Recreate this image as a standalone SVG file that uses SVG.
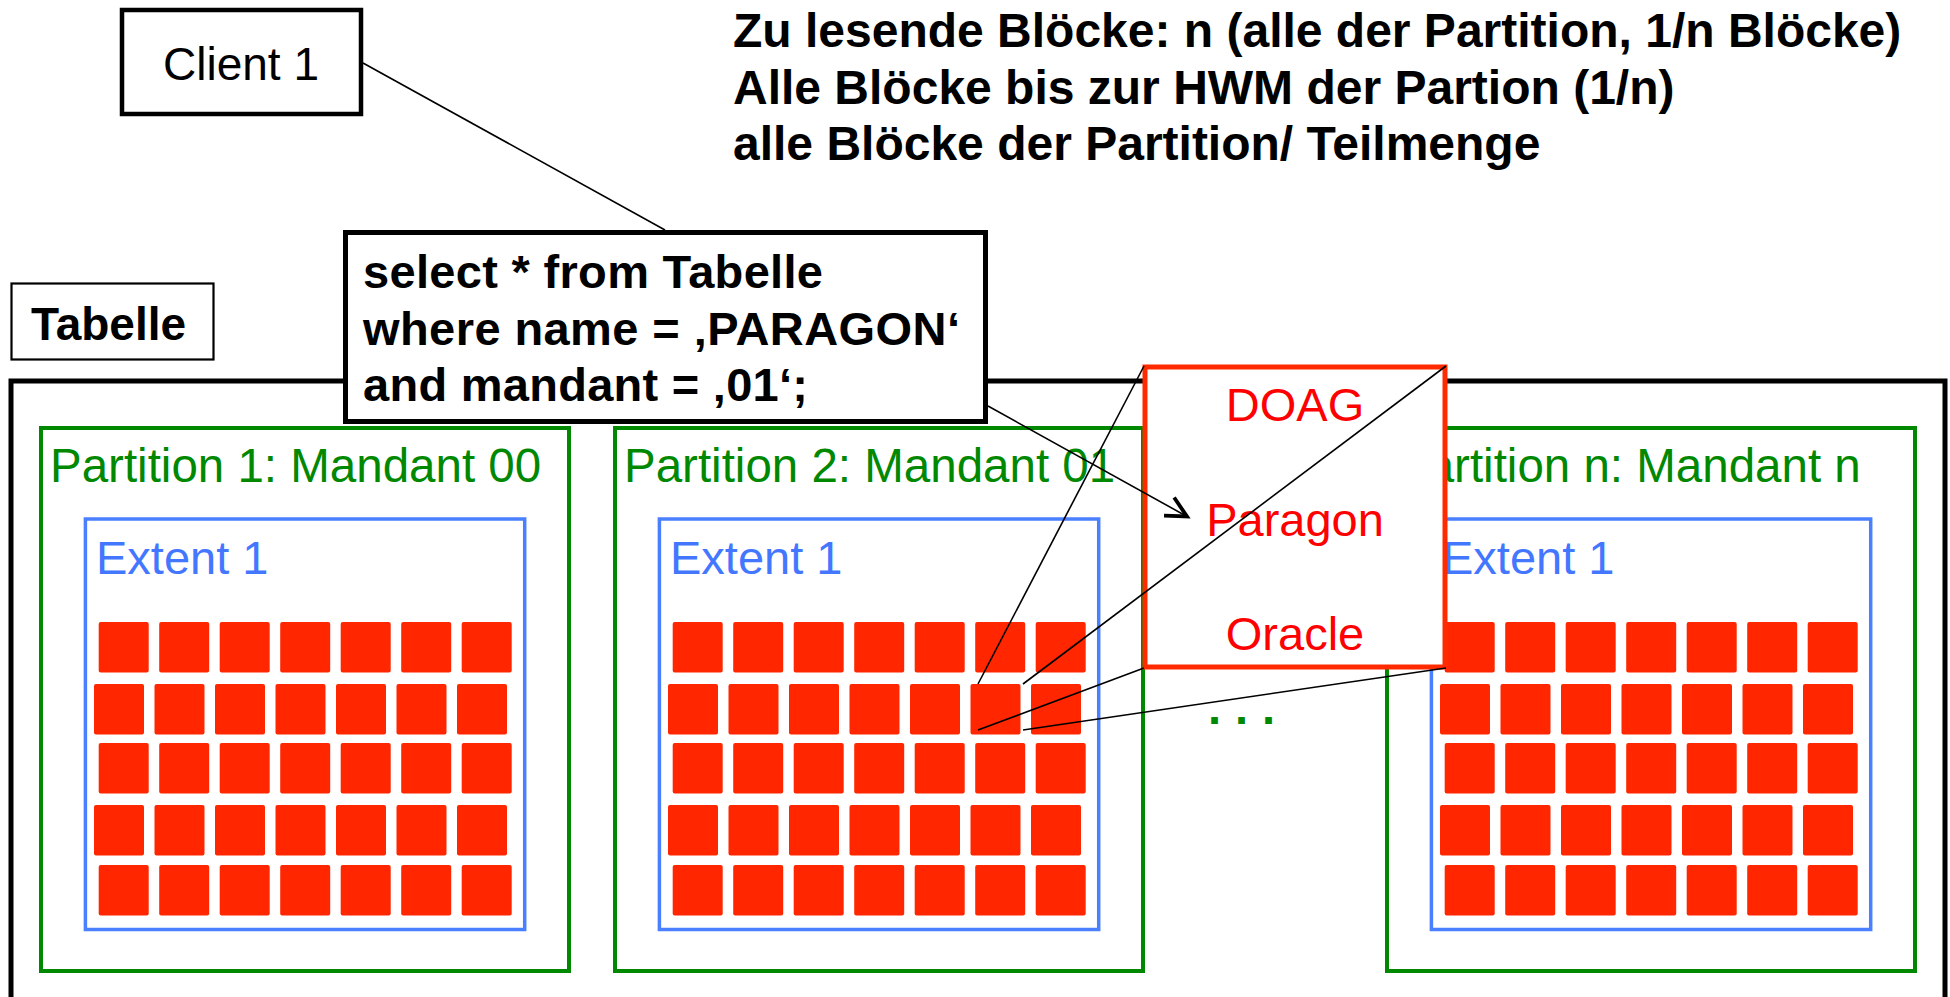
<svg xmlns="http://www.w3.org/2000/svg" xmlns:xlink="http://www.w3.org/1999/xlink" width="1950" height="997" viewBox="0 0 1950 997">
<style>
text{font-family:"Liberation Sans",Arial,sans-serif;}
.b{font-weight:bold;fill:#000;}
.part{fill:none;stroke:#008800;stroke-width:4;}
.ext{fill:none;stroke:#4a80ff;stroke-width:3.5;}
.ptext{font-size:47.5px;fill:#008800;}
.etext{font-size:47px;fill:#4477ff;}
.blk{fill:#ff2600;}
.conn{fill:none;stroke:#000;stroke-width:1.6;}
.red{font-size:47px;fill:#ff0000;text-anchor:middle;}
</style>
<defs>
<rect id="b" class="blk" width="50" height="50.5" rx="2"/>
<g id="grid">
<use href="#b" x="57.7" y="194"/><use href="#b" x="118.2" y="194"/><use href="#b" x="178.7" y="194"/><use href="#b" x="239.2" y="194"/><use href="#b" x="299.7" y="194"/><use href="#b" x="360.2" y="194"/><use href="#b" x="420.7" y="194"/>
<use href="#b" x="53" y="256"/><use href="#b" x="113.5" y="256"/><use href="#b" x="174" y="256"/><use href="#b" x="234.5" y="256"/><use href="#b" x="295" y="256"/><use href="#b" x="355.5" y="256"/><use href="#b" x="416" y="256"/>
<use href="#b" x="57.7" y="315"/><use href="#b" x="118.2" y="315"/><use href="#b" x="178.7" y="315"/><use href="#b" x="239.2" y="315"/><use href="#b" x="299.7" y="315"/><use href="#b" x="360.2" y="315"/><use href="#b" x="420.7" y="315"/>
<use href="#b" x="53" y="377"/><use href="#b" x="113.5" y="377"/><use href="#b" x="174" y="377"/><use href="#b" x="234.5" y="377"/><use href="#b" x="295" y="377"/><use href="#b" x="355.5" y="377"/><use href="#b" x="416" y="377"/>
<use href="#b" x="57.7" y="437"/><use href="#b" x="118.2" y="437"/><use href="#b" x="178.7" y="437"/><use href="#b" x="239.2" y="437"/><use href="#b" x="299.7" y="437"/><use href="#b" x="360.2" y="437"/><use href="#b" x="420.7" y="437"/>
</g>
<marker id="arr" markerUnits="userSpaceOnUse" viewBox="-25 -15 30 30" refX="0" refY="0" markerWidth="30" markerHeight="30" orient="auto" overflow="visible">
<path d="M-20.5,-10.4 L0,0 L-20.5,10.4" fill="none" stroke="#000" stroke-width="3.8" stroke-linejoin="miter"/>
</marker>
</defs>
<rect width="1950" height="997" fill="#fff"/>

<g id="header">
<text class="b" x="733" y="47" font-size="48">Zu lesende Blöcke: n (alle der Partition, 1/n Blöcke)</text>
<text class="b" x="733" y="104" font-size="48">Alle Blöcke bis zur HWM der Partion (1/n)</text>
<text class="b" x="733" y="160" font-size="48">alle Blöcke der Partition/ Teilmenge</text>
</g>

<g id="tabelle-frame">
<rect x="11" y="381" width="1934" height="700" fill="none" stroke="#000" stroke-width="5"/>
</g>

<g id="tabelle-label">
<rect x="11.5" y="283.5" width="202" height="76" fill="#fff" stroke="#000" stroke-width="2.2"/>
<text class="b" x="31" y="340" font-size="46">Tabelle</text>
</g>

<g id="partition-1" transform="translate(41,428)">
<rect class="part" x="0" y="0" width="528" height="543"/>
<text class="ptext" x="9" y="54">Partition 1: Mandant 00</text>
<rect class="ext" x="44.4" y="91" width="439.3" height="410.5"/>
<text class="etext" x="55" y="146">Extent 1</text>
<use href="#grid"/>
</g>

<g id="partition-2" transform="translate(615,428)">
<rect class="part" x="0" y="0" width="528" height="543"/>
<text class="ptext" x="9" y="54">Partition 2: Mandant 01</text>
<rect class="ext" x="44.4" y="91" width="439.3" height="410.5"/>
<text class="etext" x="55" y="146">Extent 1</text>
<use href="#grid"/>
</g>

<g id="partition-n" transform="translate(1387,428)">
<rect class="part" x="0" y="0" width="528" height="543"/>
<text class="ptext" x="9" y="54">Partition n: Mandant n</text>
<rect class="ext" x="44.4" y="91" width="439.3" height="410.5"/>
<text class="etext" x="55" y="146">Extent 1</text>
<use href="#grid"/>
</g>

<g id="ellipsis">
<text x="1208" y="724" font-size="47" font-weight="bold" fill="#008800" letter-spacing="14">...</text>
</g>

<g id="client-1">
<rect x="122" y="10" width="239" height="104" fill="#fff" stroke="#000" stroke-width="4.5"/>
<text x="241" y="80" font-size="46" text-anchor="middle" fill="#000">Client 1</text>
</g>

<g id="connectors">
<line class="conn" x1="363" y1="63" x2="665" y2="230"/>
</g>

<g id="sql-query">
<rect x="345.5" y="232.5" width="640" height="189" fill="#fff" stroke="#000" stroke-width="5"/>
<text class="b" x="363" y="288" font-size="47" textLength="460">select * from Tabelle</text>
<text class="b" x="363" y="345" font-size="47" textLength="597">where name = ‚PARAGON‘</text>
<text class="b" x="363" y="401" font-size="47" textLength="445">and mandant = ‚01‘;</text>
</g>

<g id="row-values">
<rect x="1145" y="367" width="300" height="300" fill="#fff" stroke="#ff2a00" stroke-width="5"/>
<text class="red" x="1295" y="421">DOAG</text>
<text class="red" x="1295" y="536">Paragon</text>
<text class="red" x="1295" y="650">Oracle</text>
</g>

<g id="connectors-zoom">
<line class="conn" x1="988" y1="406" x2="1187" y2="516.5" marker-end="url(#arr)" stroke-width="1.8"/>
<line class="conn" x1="1144" y1="366" x2="978" y2="684"/>
<line class="conn" x1="1446" y1="366" x2="1023" y2="684"/>
<line class="conn" x1="1144" y1="668" x2="978" y2="730"/>
<line class="conn" x1="1446" y1="668" x2="1023" y2="730"/>
</g>
</svg>
